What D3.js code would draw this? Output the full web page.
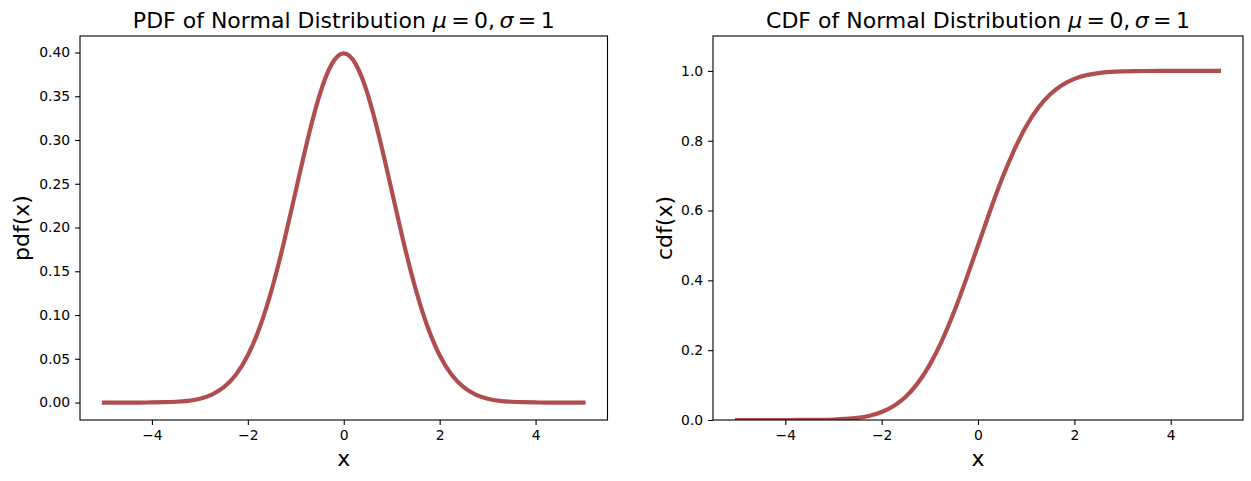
<!DOCTYPE html>
<html>
<head>
<meta charset="utf-8">
<script src="https://cdn.jsdelivr.net/npm/d3@7"></script>
<style>
  body { margin: 0; background: #fff; }
  svg { display: block; font-family: "DejaVu Sans", sans-serif; }
</style>
</head>
<body>
<svg id="chart" width="1251" height="481"></svg>
<script>
// x positions the curves were sampled at
const X_VALUES = [-5, -4.75, -4.5, -4.25, -4, -3.75, -3.5, -3.25, -3, -2.75, -2.5, -2.25, -2, -1.75, -1.5, -1.25, -1, -0.75, -0.5, -0.25,
  0, 0.25, 0.5, 0.75, 1, 1.25, 1.5, 1.75, 2, 2.25, 2.5, 2.75, 3, 3.25, 3.5, 3.75, 4, 4.25, 4.5, 4.75, 5];

// values
const PDF_VALUES = [0.0000, 0.0000, 0.0000, 0.0000, 0.0001, 0.0004, 0.0009, 0.0020, 0.0044, 0.0091, 0.0175, 0.0317, 0.0540, 0.0863, 0.1295, 0.1826, 0.2420, 0.3011, 0.3521, 0.3867,
  0.3989, 0.3867, 0.3521, 0.3011, 0.2420, 0.1826, 0.1295, 0.0863, 0.0540, 0.0317, 0.0175, 0.0091, 0.0044, 0.0020, 0.0009, 0.0004, 0.0001, 0.0000, 0.0000, 0.0000, 0.0000];

// values
const CDF_VALUES = [0.0000, 0.0000, 0.0000, 0.0000, 0.0000, 0.0001, 0.0002, 0.0006, 0.0013, 0.0030, 0.0062, 0.0122, 0.0228, 0.0401, 0.0668, 0.1056, 0.1587, 0.2266, 0.3085, 0.4013,
  0.5000, 0.5987, 0.6915, 0.7734, 0.8413, 0.8944, 0.9332, 0.9599, 0.9772, 0.9878, 0.9938, 0.9970, 0.9987, 0.9994, 0.9998, 0.9999, 1.0000, 1.0000, 1.0000, 1.0000, 1.0000];

const X_TICKS = [-4, -2, 0, 2, 4];
const PDF_TICKS = [0, 0.05, 0.10, 0.15, 0.20, 0.25, 0.30, 0.35, 0.40];
const CDF_TICKS = [0, 0.2, 0.4, 0.6, 0.8, 1.0];

const LINE_COLOR = "#b04e4e";
const TOP = 36, BOTTOM = 420;

const svg = d3.select("#chart");
svg.append("rect").attr("width", 1251).attr("height", 481).attr("fill", "#fff");
const defs = svg.append("defs");

function panel(opts) {
  const x = d3.scaleLinear().domain([-5.5, 5.5]).range([opts.left, opts.right]);
  const y = d3.scaleLinear().domain(opts.yDomain).range([BOTTOM, TOP]);

  const g = svg.append("g");

  defs.append("clipPath").attr("id", opts.id + "-clip")
    .append("rect")
    .attr("x", opts.left).attr("y", TOP)
    .attr("width", opts.right - opts.left).attr("height", BOTTOM - TOP);

  const line = d3.line()
    .x((d, i) => x(X_VALUES[i]))
    .y(d => y(d))
    .curve(d3.curveNatural);

  g.append("path")
    .datum(opts.values)
    .attr("clip-path", `url(#${opts.id}-clip)`)
    .attr("fill", "none")
    .attr("stroke", LINE_COLOR)
    .attr("stroke-width", 4.2)
    .attr("stroke-linejoin", "round")
    .attr("stroke-linecap", "square")
    .attr("d", line);

  const xAxis = g.append("g")
    .attr("transform", `translate(0,${BOTTOM})`)
    .call(d3.axisBottom(x).tickValues(X_TICKS).tickSize(4.9).tickPadding(4.9)
      .tickFormat(d => d < 0 ? "\u2212" + Math.abs(d) : d));
  const yAxis = g.append("g")
    .attr("transform", `translate(${opts.left},0)`)
    .call(d3.axisLeft(y).tickValues(opts.yTicks).tickSize(4.9).tickPadding(4.9)
      .tickFormat(d3.format(opts.yFormat)));

  [xAxis, yAxis].forEach(a => {
    a.select(".domain").remove();
    a.selectAll("text").attr("font-size", "13.9px").attr("font-family", "DejaVu Sans").attr("fill", "#000");
    a.selectAll("line").attr("stroke", "#000").attr("stroke-width", 1.1);
  });

  g.append("rect")
    .attr("x", opts.left).attr("y", TOP)
    .attr("width", opts.right - opts.left).attr("height", BOTTOM - TOP)
    .attr("fill", "none").attr("stroke", "#000").attr("stroke-width", 1.1);

  const title = g.append("text")
    .attr("x", (opts.left + opts.right) / 2).attr("y", 27.5)
    .attr("text-anchor", "middle")
    .attr("font-size", "22px");
  title.append("tspan").text(opts.title + " ");
  title.append("tspan").attr("font-style", "italic").text("\u03bc");
  title.append("tspan").text("\u2009=\u20090,\u2009");
  title.append("tspan").attr("font-style", "italic").text("\u03c3");
  title.append("tspan").text("\u2009=\u20091");

  g.append("text")
    .attr("x", (opts.left + opts.right) / 2).attr("y", 466)
    .attr("text-anchor", "middle")
    .attr("font-size", "22px")
    .text("x");

  g.append("text")
    .attr("transform", `translate(${opts.labelX},${(TOP + BOTTOM) / 2}) rotate(-90)`)
    .attr("text-anchor", "middle")
    .attr("font-size", "22px")
    .text(opts.yLabel);
}

panel({id: "pdf", left: 80, right: 607.5, yDomain: [-0.01995, 0.41885], values: PDF_VALUES, yTicks: PDF_TICKS,
  yFormat: ".2f", title: "PDF of Normal Distribution", yLabel: "pdf(x)", labelX: 29});
panel({id: "cdf", left: 713, right: 1243, yDomain: [0, 1.1], values: CDF_VALUES, yTicks: CDF_TICKS,
  yFormat: ".1f", title: "CDF of Normal Distribution", yLabel: "cdf(x)", labelX: 672});
</script>
</body>
</html>
